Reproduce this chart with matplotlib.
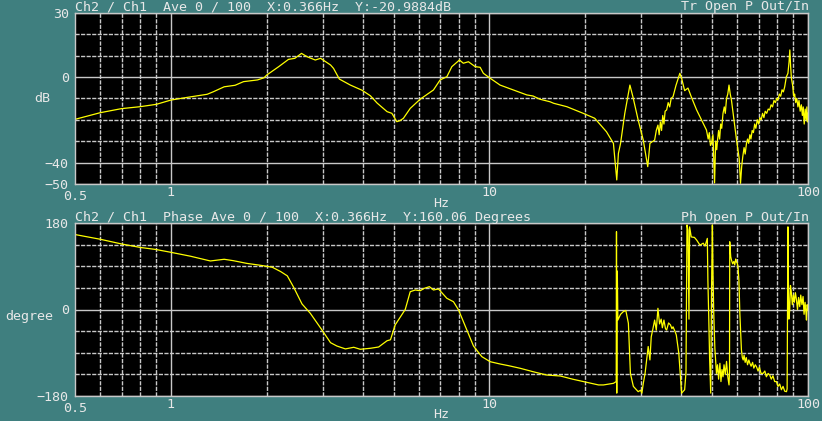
import matplotlib
matplotlib.use("Agg")
import matplotlib.pyplot as plt

# ---- data ----
mag_freq = [0.5, 0.6, 0.7, 0.8, 0.9, 1.0, 1.13, 1.30, 1.36, 1.47, 1.59, 1.69, 1.87, 1.96,
            2.0, 2.18, 2.34, 2.45, 2.57, 2.68, 2.84, 2.95, 3.17, 3.24, 3.38, 3.66, 3.98,
            4.23, 4.44, 4.77, 4.94, 5.12, 5.24, 5.37, 5.64, 6.06, 6.67, 7.0, 7.35, 7.62,
            8.05, 8.28, 8.59, 9.02, 9.35, 9.57, 10.05, 10.8, 11.9, 13.1, 13.7, 14.4, 15.5,
            15.9, 17.5, 19.7, 21.4, 23.3, 24.5, 25.1, 25.4, 25.8, 26.6, 27.6, 28.2, 29.3,
            30.4, 31.4, 31.9, 33.0, 33.4, 33.8, 34.1, 34.4, 34.7, 35.0, 35.3, 35.6, 36.0,
            36.4, 36.8, 37.2, 37.7, 38.5, 39.6, 40.1, 41.0, 42.0, 43.2, 44.7, 46.3, 48.0,
            48.6, 49.0, 49.4, 49.8, 50.3, 50.9, 51.3, 51.7, 52.0, 52.4, 52.8, 53.2, 53.6,
            54.1, 54.6, 55.0, 55.5, 56.0, 56.5, 57.0, 57.5, 58.2, 58.9, 59.6, 60.3, 60.8,
            61.4, 61.9, 62.4, 63.0, 63.5, 64.1, 64.6, 65.1, 65.7, 66.2, 66.8, 67.4, 68.0,
            68.6, 69.3, 70.0, 70.6, 71.3, 72.0, 72.7, 73.4, 74.2, 75.0, 75.8, 76.6, 77.4,
            78.2, 79.0, 79.8, 80.5, 81.3, 82.1, 82.9, 83.7, 84.5, 85.5, 86.5, 87.2, 87.7,
            88.2, 88.7, 89.5, 90.2, 90.8, 91.5, 92.2, 93.0, 93.7, 94.5, 95.3, 96.0, 96.6,
            97.3, 98.0, 98.6, 99.2, 99.6, 100.0]
mag_db = [-19.8, -16.7, -14.8, -13.9, -12.8, -10.8, -9.5, -8.1, -6.9, -4.6, -3.9, -2.2, -1.4, -0.4,
          0.9, 4.8, 8.2, 8.7, 11.0, 9.4, 7.9, 8.7, 5.6, 4.0, -1.0, -3.8, -6.2,
          -8.8, -12.2, -16.2, -17.0, -20.9, -20.4, -19.3, -14.7, -10.4, -6.1, -1.4, 0.1, 4.8,
          7.9, 6.4, 7.1, 4.8, 4.5, 1.7, -0.6, -3.8, -6.1, -8.4, -8.9, -10.4, -11.6,
          -12.3, -13.9, -17.0, -19.3, -25.6, -31.0, -48.1, -35.7, -31.0, -17.0, -3.8, -9.2, -20.1,
          -29.5, -41.9, -31.0, -29.5, -25.0, -22.5, -27.0, -21.0, -25.0, -18.0, -22.0, -16.0, -15.4,
          -12.0, -14.0, -10.0, -9.2, -4.0, 1.7, -0.6, -6.4, -5.2, -10.0, -15.4, -20.0, -24.8,
          -29.0, -26.0, -32.0, -31.0, -27.0, -49.5, -30.0, -34.0, -29.5, -25.0, -29.0, -22.0, -24.0,
          -17.0, -14.0, -17.0, -10.0, -8.0, -3.8, -8.0, -10.8, -17.0, -23.2, -29.0, -34.1, -38.0,
          -49.7, -42.0, -37.3, -33.0, -36.0, -31.0, -29.0, -31.0, -27.0, -29.0, -25.0, -26.0, -22.0,
          -24.0, -20.0, -22.0, -19.0, -20.0, -17.0, -19.0, -16.0, -17.0, -15.0, -15.4, -13.0, -14.0,
          -11.0, -12.0, -10.0, -10.8, -8.0, -9.0, -6.0, -7.0, -4.6, 0.0, 1.7, 7.0, 12.6,
          5.0, -0.6, -4.0, -9.0, -8.0, -12.0, -10.0, -14.0, -11.0, -16.0, -13.0, -18.0, -14.0,
          -22.0, -15.0, -20.0, -14.0, -21.0, -17.0]

ph_freq = [0.5, 0.602, 0.704, 0.804, 0.895, 1.0, 1.15, 1.33, 1.47, 1.57, 1.73, 1.91, 2.08, 2.21,
           2.32, 2.43, 2.58, 2.74, 2.98, 3.17, 3.32, 3.53, 3.75, 3.93, 4.23, 4.49, 4.77, 4.89,
           5.06, 5.44, 5.64, 5.85, 6.06, 6.24, 6.48, 6.67, 6.92, 7.35, 7.71, 8.0, 8.49, 8.91,
           9.46, 10.05, 10.8, 11.5, 12.5, 13.7, 15.1, 16.7, 18.3, 20.2, 22.0, 22.8, 24.5,
           25.0, 25.05, 25.1, 25.15, 25.2, 25.3, 25.8, 26.3, 26.8, 27.3, 27.7, 28.3, 29.3,
           29.8, 30.1, 30.4, 30.8, 31.2, 31.5, 31.9, 32.2, 32.6, 33.0, 33.4, 33.8, 34.2,
           34.6, 34.9, 35.3, 35.7, 36.0, 36.5, 37.0, 37.4, 37.7, 38.2, 38.6, 39.3, 40.1,
           40.6, 41.0, 41.4, 41.7, 42.0, 42.3, 42.5, 43.0, 44.0, 44.7, 45.8, 46.9, 47.5,
           48.3, 48.5, 48.8, 49.1, 49.5, 49.8, 50.1, 50.3, 50.6, 51.0, 51.6, 52.0, 52.4,
           52.9, 53.3, 53.7, 54.1, 54.5, 55.0, 55.5, 56.0, 56.5, 56.7, 56.8, 57.2, 57.5,
           58.0, 58.5, 58.9, 59.3, 59.6, 60.0, 60.3, 60.7, 61.1, 61.8, 62.2, 62.6, 63.0,
           63.5, 64.0, 64.6, 65.2, 65.7, 66.3, 67.0, 67.6, 68.3, 68.9, 69.7, 70.4, 71.2,
           72.3, 73.2, 74.0, 75.0, 75.8, 76.7, 77.6, 78.6, 79.6, 80.5, 81.5, 82.5, 83.5,
           84.5, 85.6, 86.0, 86.5, 86.8, 87.1, 87.6, 88.1, 88.7, 89.3, 90.0, 90.6, 91.3,
           92.0, 92.7, 93.4, 94.2, 94.9, 95.7, 96.5, 97.2, 97.9, 98.5, 98.9, 99.4, 100.0]
ph_deg = [156, 146, 136, 129, 125, 119, 111, 101, 104.5, 101.6, 96, 92, 88, 79,
          70, 46, 11.5, -8, -42.6, -69, -76, -82, -78.6, -82.8, -80.7, -78, -65, -63,
          -32, 0, 37, 40.6, 39, 44, 47.5, 40.6, 42.7, 23.3, 16.2, -1, -42.6, -76,
          -98, -108.6, -113.4, -117, -122.4, -129.4, -136.3, -138.4, -145.2, -151.5, -157, -157, -153.6,
          -150, 162, -174, 58, 80, -22, -10, -4.6, -2, -28.7, -133, -160, -171,
          -168, -174, -154, -133, -100, -77, -105, -57, -40, -22, -43, 2.5, -30,
          -20, -38, -22, -40, -42.6, -28, -32, -40, -36, -45, -53, -91, -174,
          -170, -167, -130, 176, 165, -20, 172, 151, 150, 144.6, 134, 138, 132,
          148, 60, -15, -100, -174, 40, 176, 80, -8, -80, -133, -115, -145,
          -112, -150, -125, -140, -115, -135, -108, -140, -157, -130, 141, 110, 103,
          95, 100, 92.6, 105, 99.5, 96, 89, 60, -8, -84, -100, -105, -95,
          -110, -100, -115, -105, -112, -118, -110, -122, -115, -119, -128, -120, -133,
          -132.8, -128, -140, -133, -136, -145, -138, -150, -150, -160, -155, -167, -160,
          -170, -171, -165, 172, 60, -20, -1, 50, 34, 10, 30, 15, 35,
          20, 0, 25, 6, 30, 10, 27, -10, 15, -5, -22, 10, -1]

BG = "#3f7f7f"
FG = "#e8e8e8"
GRID = "#c8c8c8"
TRACE = "#ffff00"
MONO = ["DejaVu Sans Mono"]
FS = 9.6

W, H = 822, 421


def fx(x):
    return x / W


def fy(y):
    return 1 - y / H


fig = plt.figure(figsize=(W / 100, H / 100), dpi=100, facecolor=BG)

ax_mag = fig.add_axes([fx(75), fy(184), (808 - 75) / W, (184 - 12.7) / H])
ax_ph = fig.add_axes([fx(75), fy(396), (808 - 75) / W, (396 - 223) / H])

x_major = [1, 10, 100]
x_minor = [0.6, 0.7, 0.8, 0.9, 2, 3, 4, 5, 6, 7, 8, 9, 20, 30, 40, 50, 60, 70, 80, 90]


def style_axes(ax, ymin, ymax, y_major, y_major_labels, y_minor):
    ax.set_facecolor("black")
    ax.set_xscale("log")
    ax.set_xlim(0.5, 100)
    ax.set_ylim(ymin, ymax)
    ax.set_xticks(x_major)
    ax.set_xticklabels([str(v) for v in x_major])
    ax.set_xticks(x_minor, minor=True)
    ax.set_xticklabels([], minor=True)
    ax.set_yticks(y_major)
    ax.set_yticklabels(y_major_labels)
    ax.set_yticks(y_minor, minor=True)
    ax.tick_params(which="both", length=0, colors=FG)
    ax.tick_params(axis="x", pad=1.5)
    ax.tick_params(axis="y", pad=4.5)
    for lab in ax.get_xticklabels() + ax.get_yticklabels():
        lab.set_family(MONO)
        lab.set_fontsize(FS)
    ax.grid(which="major", color=GRID, linewidth=1.0, linestyle="-")
    ax.grid(which="minor", color=GRID, linewidth=1.0, linestyle=(0, (3, 1)))
    ax.set_axisbelow(True)
    for sp in ax.spines.values():
        sp.set_color(GRID)
        sp.set_linewidth(1.0)
    # the 0.5 label sits a little lower than the other x labels
    ax.text(0.5, -0.035, "0.5", transform=ax.get_xaxis_transform(), ha="center", va="top",
            color=FG, family=MONO, fontsize=FS)


style_axes(ax_mag, -50, 30, [30, 0, -40, -50], ["30", "0", "\u221240", "\u221250"],
           [20, 10, -10, -20, -30])
style_axes(ax_ph, -180, 180, [180, 0, -180], ["180", "0", "\u2212180"],
           [135, 90, 45, -45, -90, -135])

ax_mag.plot(mag_freq, mag_db, color=TRACE, linewidth=0.9)
ax_ph.plot(ph_freq, ph_deg, color=TRACE, linewidth=0.9)

ax_mag.set_xlabel("Hz", color=FG, family=MONO, fontsize=FS, va="center")
ax_mag.xaxis.set_label_coords(0.4993, -0.114)
ax_mag.set_ylabel("dB", color=FG, family=MONO, fontsize=FS, rotation=0, va="center", ha="center")
ax_mag.yaxis.set_label_coords(-0.0443, 0.5)

ax_ph.set_xlabel("Hz", color=FG, family=MONO, fontsize=FS, va="center")
ax_ph.xaxis.set_label_coords(0.4993, -0.105)
ax_ph.set_ylabel("degree", color=FG, family=MONO, fontsize=FS, rotation=0, va="center", ha="center")
ax_ph.yaxis.set_label_coords(-0.062, 0.462)

fig.text(fx(75), fy(6.5), "Ch2 / Ch1  Ave 0 / 100  X:0.366Hz  Y:-20.9884dB",
         color=FG, family=MONO, fontsize=FS, ha="left", va="center")
fig.text(fx(809), fy(6.5), "Tr Open P Out/In",
         color=FG, family=MONO, fontsize=FS, ha="right", va="center")
fig.text(fx(75), fy(217), "Ch2 / Ch1  Phase Ave 0 / 100  X:0.366Hz  Y:160.06 Degrees",
         color=FG, family=MONO, fontsize=FS, ha="left", va="center")
fig.text(fx(809), fy(217), "Ph Open P Out/In",
         color=FG, family=MONO, fontsize=FS, ha="right", va="center")

fig.savefig("out.png", dpi=100, facecolor=BG)
